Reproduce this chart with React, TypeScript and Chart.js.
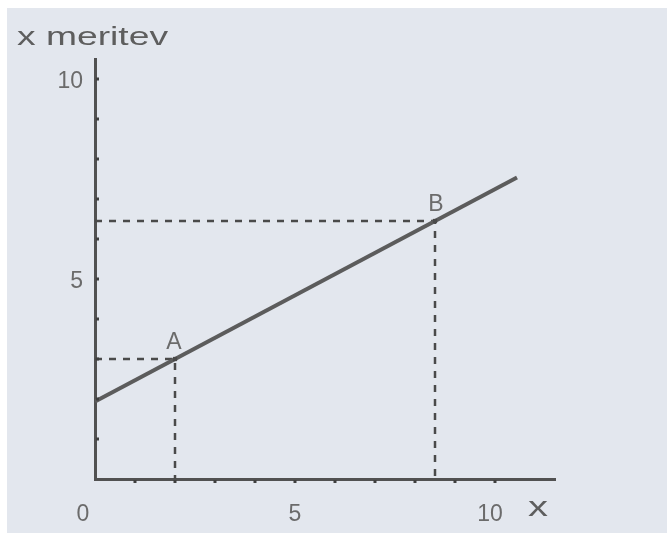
import React, { useEffect, useRef } from 'react';
import { Chart, registerables } from 'chart.js';

Chart.register(...registerables);

// ---- data ----
const yAxisTitle = 'x meritev';
const xAxisTitle = 'x';
const xTickLabels = [0, 5, 10];
const yTickLabels = [5, 10];
const minorTicks = [1, 2, 3, 4, 5, 6, 7, 8, 9, 10];
const lineX = [0, 10.55];
const lineY = [1.94, 7.54];
const pointNames = ['A', 'B'];
const pointX = [2, 8.5];
const pointY = [3, 6.45];
const xMax = 11.5;
const yMax = 10.5;

const textColor = '#6b6b6b';
const axisColor = '#515151';

const decorPlugin = {
  id: 'decor',
  beforeDraw(chart: any) {
    const { ctx, width, height } = chart;
    ctx.save();
    ctx.fillStyle = '#ffffff';
    ctx.fillRect(0, 0, width, height);
    ctx.fillStyle = '#e3e7ee';
    ctx.fillRect(7, 8, width - 7, height - 8);
    ctx.restore();
  },
  afterDraw(chart: any) {
    const { ctx } = chart;
    const xs = chart.scales.x;
    const ys = chart.scales.y;
    const x0 = xs.getPixelForValue(0);
    const y0 = ys.getPixelForValue(0);
    ctx.save();
    // minor tick marks
    ctx.fillStyle = '#3f3f3f';
    minorTicks.forEach((v) => {
      const py = ys.getPixelForValue(v);
      ctx.fillRect(x0 + 1, py - 1.5, 3, 3);
      const px = xs.getPixelForValue(v);
      ctx.fillRect(px - 1.5, y0 + 1, 3, 3);
    });
    // tick labels
    ctx.fillStyle = textColor;
    ctx.font = '23px "Liberation Sans", Arial, sans-serif';
    ctx.textBaseline = 'middle';
    ctx.textAlign = 'center';
    xTickLabels.forEach((v) => {
      const px = xs.getPixelForValue(v) - (v === 0 ? 12 : v >= 10 ? 5 : 0);
      ctx.fillText(String(v), px, y0 + 36);
    });
    ctx.textAlign = 'right';
    yTickLabels.forEach((v) => {
      ctx.fillText(String(v), x0 - 12, ys.getPixelForValue(v) + 3);
    });
    // point labels
    ctx.textAlign = 'center';
    ctx.textBaseline = 'bottom';
    pointNames.forEach((n, i) => {
      const px = xs.getPixelForValue(pointX[i]);
      const py = ys.getPixelForValue(pointY[i]);
      ctx.fillText(n, px + (i === 1 ? 1 : -1), py - 5);
    });
    // axis titles (stretched horizontally)
    ctx.fillStyle = '#5e5e5e';
    ctx.textAlign = 'left';
    ctx.textBaseline = 'middle';
    ctx.font = '25px "Liberation Sans", Arial, sans-serif';
    const w = ctx.measureText(yAxisTitle).width;
    ctx.save();
    ctx.translate(17, 38);
    ctx.scale(151 / w, 1);
    ctx.fillText(yAxisTitle, 0, 0);
    ctx.restore();
    ctx.font = '27px "Liberation Sans", Arial, sans-serif';
    const wx = ctx.measureText(xAxisTitle).width;
    ctx.save();
    ctx.translate(528, 509);
    ctx.scale(20 / wx, 1);
    ctx.fillText(xAxisTitle, 0, 0);
    ctx.restore();
    ctx.restore();
  },
};

export default function App() {
  const ref = useRef<HTMLCanvasElement>(null);
  useEffect(() => {
    if (!ref.current) return;
    const mainLine = lineX.map((x, i) => ({ x, y: lineY[i] }));
    const dashSets = pointX.map((px, i) => ({
      data: [
        { x: 0, y: pointY[i] },
        { x: px, y: pointY[i] },
        { x: px, y: 0 },
      ],
      showLine: true,
      borderColor: '#4a4a4a',
      borderWidth: 2.5,
      borderDash: [7, 7],
      pointRadius: 0,
      order: 2,
    }));
    const chart = new Chart(ref.current, {
      type: 'scatter',
      data: {
        datasets: [
          {
            data: mainLine,
            showLine: true,
            borderColor: '#5c5c5c',
            borderWidth: 4,
            pointRadius: 0,
            order: 1,
          } as any,
          ...dashSets,
          {
            data: pointX.map((x, i) => ({ x, y: pointY[i] })),
            showLine: false,
            pointStyle: 'rect',
            pointRadius: 3,
            backgroundColor: '#4a4a4a',
            borderColor: '#4a4a4a',
            borderWidth: 0,
            order: 0,
          },
        ],
      },
      options: {
        responsive: false,
        animation: false,
        devicePixelRatio: 1,
        layout: { padding: { left: 95, top: 59, right: 667 - 555, bottom: 54 } },
        plugins: { legend: { display: false }, tooltip: { enabled: false } },
        scales: {
          x: {
            type: 'linear',
            min: 0,
            max: xMax,
            ticks: { display: false },
            grid: { drawOnChartArea: false, drawTicks: false },
            border: { display: true, color: axisColor, width: 3 },
          },
          y: {
            type: 'linear',
            min: 0,
            max: yMax,
            ticks: { display: false },
            grid: { drawOnChartArea: false, drawTicks: false },
            border: { display: true, color: axisColor, width: 3 },
          },
        },
      },
      plugins: [decorPlugin],
    });
    return () => chart.destroy();
  }, []);
  return (
    <div style={{ position: 'fixed', left: 0, top: 0, width: 667, height: 533 }}>
      <canvas ref={ref} width={667} height={533} style={{ display: 'block' }} />
    </div>
  );
}
